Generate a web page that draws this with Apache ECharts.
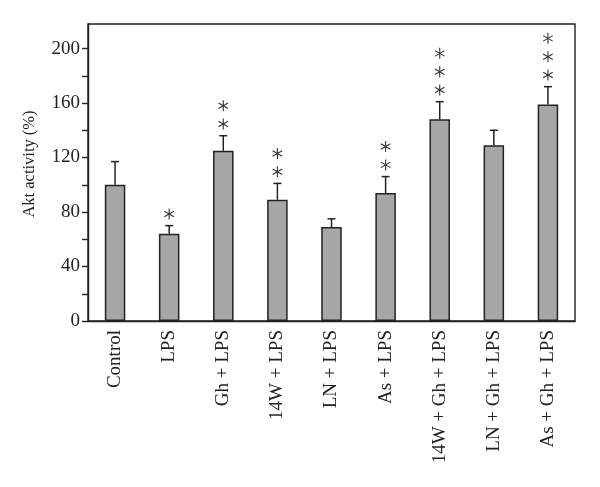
<!DOCTYPE html>
<html>
<head>
<meta charset="utf-8">
<script src="https://cdn.jsdelivr.net/npm/echarts@6/dist/echarts.min.js"></script>
<style>html,body{margin:0;padding:0;background:#fff}#c{width:600px;height:487px}</style>
</head>
<body>
<div id="c"></div>
<script>
var categories = ['Control', 'LPS', 'Gh + LPS', '14W + LPS', 'LN + LPS', 'As + LPS', '14W + Gh + LPS', 'LN + Gh + LPS', 'As + Gh + LPS'];
var means = [100, 64, 125, 89, 69, 94, 148, 129, 159];
var errorTops = [117, 70, 136, 101, 75, 106, 161, 140, 172];
var starCounts = [0, 1, 2, 2, 0, 2, 3, 0, 3];
var yTicks = [0, 20, 40, 60, 80, 100, 120, 140, 160, 180, 200];
var yLabels = [0, 40, 80, 120, 160, 200];

var FONT = '"Liberation Serif", "DejaVu Serif", serif';
var INK = '#222';

var chart = echarts.init(document.getElementById('c'));
var errData = categories.map(function (c, i) { return [i, means[i], errorTops[i], starCounts[i]]; });

chart.setOption({
  animation: false,
  grid: { left: 88, right: 25, top: 24, bottom: 166, show: true, borderColor: INK, borderWidth: 1.4, backgroundColor: 'transparent' },
  xAxis: {
    type: 'category', data: categories,
    axisLine: { lineStyle: { color: INK, width: 1.4 } },
    axisTick: { show: false },
    axisLabel: { rotate: 90, margin: 9, fontFamily: FONT, fontSize: 19, color: INK, interval: 0 }
  },
  yAxis: {
    type: 'value', min: 0, max: 218,
    axisLine: { show: true, lineStyle: { color: INK, width: 1.4 } },
    axisTick: { show: true, length: 6, customValues: yTicks, lineStyle: { color: INK, width: 1.4 } },
    axisLabel: { customValues: yLabels, margin: 8, fontFamily: FONT, fontSize: 19, color: INK },
    splitLine: { show: false }
  },
  graphic: [{
    type: 'text', x: 30, y: 164, rotation: Math.PI / 2,
    style: { text: 'Akt activity (%)', fontFamily: FONT, fontSize: 16.5, fill: INK, align: 'center', verticalAlign: 'middle' }
  }],
  series: [{
    type: 'bar', data: means, barWidth: 20.5,
    itemStyle: { color: '#a6a6a6', borderColor: INK, borderWidth: 1.5 }
  }, {
    type: 'custom', data: errData, z: 3,
    renderItem: function (params, api) {
      var i = api.value(0);
      var p0 = api.coord([i, api.value(1)]);
      var p1 = api.coord([i, api.value(2)]);
      var n = api.value(3);
      var st = { stroke: INK, lineWidth: 1.5 };
      var children = [
        { type: 'line', shape: { x1: p0[0], y1: p0[1], x2: p1[0], y2: p1[1] }, style: st },
        { type: 'line', shape: { x1: p1[0] - 4, y1: p1[1], x2: p1[0] + 4, y2: p1[1] }, style: st }
      ];
      var r = 5.5;
      for (var k = 0; k < n; k++) {
        var cy = p1[1] - 11.7 - k * 18.3;
        var cx = p1[0];
        for (var a = 0; a < 3; a++) {
          var ang = Math.PI / 2 + a * Math.PI / 3;
          var dx = Math.cos(ang) * r, dy = Math.sin(ang) * r;
          children.push({ type: 'line', shape: { x1: cx - dx, y1: cy - dy, x2: cx + dx, y2: cy + dy }, style: { stroke: '#333', lineWidth: 1.1 } });
        }
      }
      return { type: 'group', children: children };
    }
  }]
});
</script>
</body>
</html>
